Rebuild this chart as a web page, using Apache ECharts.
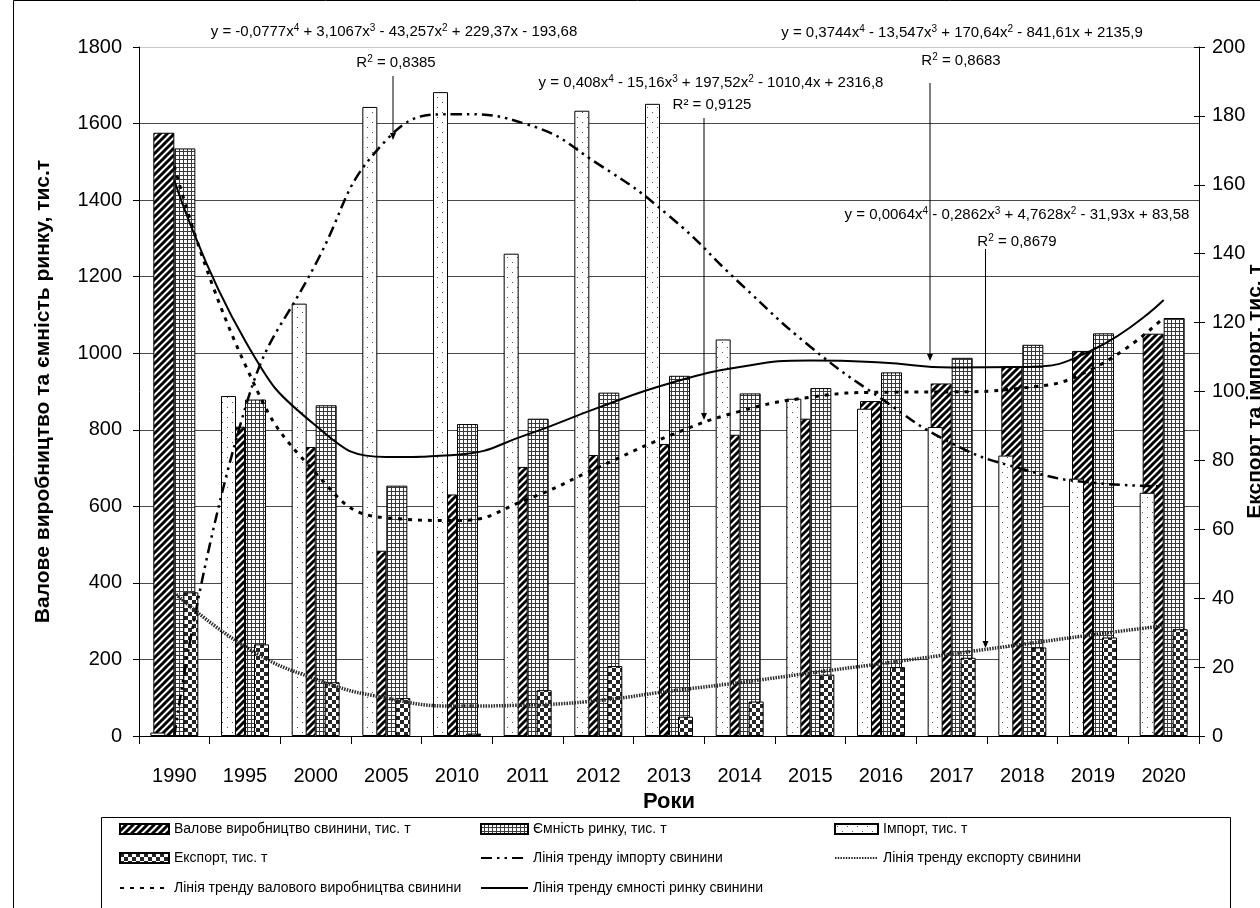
<!DOCTYPE html>
<html>
<head>
<meta charset="utf-8">
<script src="https://cdn.jsdelivr.net/npm/echarts@6/dist/echarts.min.js"></script>
<style>
  html, body { margin: 0; padding: 0; background: #fff; }
  #chart { width: 1260px; height: 908px; }
</style>
</head>
<body>
<div id="chart"></div>
<script>
// Роки
const years = ['1990', '1995', '2000', '2005', '2010', '2011', '2012', '2013', '2014', '2015', '2016', '2017', '2018', '2019', '2020'];

// Ліва вісь, тис. т
const production = [1576, 808, 755, 484, 631, 703, 734, 763, 787, 829, 875, 921, 966, 1006, 1051];
const capacity = [1535, 879, 864, 654, 815, 829, 897, 941, 895, 909, 950, 988, 1022, 1052, 1092];

// Права вісь, тис. т
const imports = [1.0, 98.7, 125.5, 182.6, 186.9, 140.0, 181.5, 183.5, 115.1, 97.9, 95.0, 89.7, 81.4, 74.7, 70.6];
const exports = [41.7, 26.6, 15.6, 11.0, 0.7, 13.3, 20.3, 5.6, 10.0, 17.8, 20.0, 22.7, 25.7, 28.6, 31.0];

// Лінії тренду (поліноміальні, 4-го степеня)
const productionTrend = [1489, 971, 687, 570, 563, 619, 702, 784, 848, 885, 898, 899, 909, 960, 1093];
const capacityTrend = [1452, 1033, 811, 729, 735, 788, 858, 921, 964, 981, 976, 963, 964, 1009, 1139];
const importTrend = [0, 95, 137, 173, 180.5, 177.5, 166, 151, 131.5, 113, 98, 85, 77.5, 73.5, 72.5];
const exportTrend = [41.6, 26, 16.5, 11, 8.7, 9, 10.3, 13, 15.5, 18.3, 21, 23.8, 26.6, 29.4, 32];

// Шкали осей
const leftAxisMax = 1800, leftAxisStep = 200;
const rightAxisMax = 200, rightAxisStep = 20;

// Підписи рівнянь трендів
const equations = [
  { text: 'y = -0,0777x{s|4} + 3,1067x{s|3} - 43,257x{s|2} + 229,37x - 193,68', x: 394, y: 32 },
  { text: 'R{s|2} = 0,8385', x: 396, y: 63 },
  { text: 'y = 0,408x{s|4} - 15,16x{s|3} + 197,52x{s|2} - 1010,4x + 2316,8', x: 711, y: 83 },
  { text: 'R² = 0,9125', x: 712, y: 105 },
  { text: 'y = 0,3744x{s|4} - 13,547x{s|3} + 170,64x{s|2} - 841,61x + 2135,9', x: 962, y: 33 },
  { text: 'R{s|2} = 0,8683', x: 961, y: 61 },
  { text: 'y = 0,0064x{s|4} - 0,2862x{s|3} + 4,7628x{s|2} - 31,93x + 83,58', x: 1017, y: 215 },
  { text: 'R{s|2} = 0,8679', x: 1017, y: 242 }
];

// Стрілки від коефіцієнтів детермінації до ліній тренду: [x, y початку, y кінця]
const arrows = [
  [393, 76, 140],
  [704, 118, 420],
  [930, 83, 361],
  [985.5, 249, 648]
];

const FONT = "'Liberation Sans', Arial, sans-serif";

function makePattern(w, h, draw) {
  const c = document.createElement('canvas');
  c.width = w; c.height = h;
  const g = c.getContext('2d');
  g.fillStyle = '#fff';
  g.fillRect(0, 0, w, h);
  draw(g, w, h);
  return { image: c, repeat: 'repeat' };
}

// Косе штрихування
const hatchFill = makePattern(7, 7, function (g, w, h) {
  g.strokeStyle = '#000';
  g.lineWidth = 3;
  for (let k = -1; k <= 1; k++) {
    g.beginPath();
    g.moveTo(k * w - 1, h + 1);
    g.lineTo(k * w + w + 1, -1);
    g.stroke();
  }
});

// Сітка
const gridFill = makePattern(4, 4, function (g) {
  g.fillStyle = '#3a3a3a';
  g.fillRect(3, 0, 1, 4);
  g.fillRect(0, 3, 4, 1);
});

// Рідкі крапки
const dotFill = makePattern(10, 10, function (g) {
  g.fillStyle = '#555';
  g.fillRect(2, 2, 1, 1);
  g.fillRect(7, 7, 1, 1);
});

// Шахова клітинка
const checkFill = makePattern(8, 8, function (g) {
  g.fillStyle = '#262626';
  g.fillRect(0, 0, 4, 4);
  g.fillRect(4, 4, 4, 4);
});

const S_PROD = 'Валове виробництво свинини, тис. т';
const S_CAP = 'Ємність ринку, тис. т';
const S_IMP = 'Імпорт, тис. т';
const S_EXP = 'Експорт, тис. т';
const T_IMP = 'Лінія тренду імпорту свинини';
const T_EXP = 'Лінія тренду експорту свинини';
const T_PROD = 'Лінія тренду валового виробництва свинини';
const T_CAP = 'Лінія тренду ємності ринку свинини';

// Легенда: [назва, ліворуч, зверху, ширина значка, стовпчик?]
const legendItems = [
  [S_PROD, 119, 822, 49, true],
  [S_CAP, 480, 822, 47, true],
  [S_IMP, 834, 822, 43, true],
  [S_EXP, 119, 851, 49, true],
  [T_IMP, 480, 851, 47, false],
  [T_EXP, 834, 851, 43, false],
  [T_PROD, 119, 881, 49, false],
  [T_CAP, 480, 881, 47, false]
];

const gridLineColors = [];
for (let v = 0; v <= leftAxisMax; v += leftAxisStep) {
  gridLineColors.push(v === leftAxisMax ? '#c8c8c8' : '#4a4a4a');
}

const chart = echarts.init(document.getElementById('chart'), null, { renderer: 'canvas' });

const barBorder = { borderColor: '#000', borderWidth: 1 };

const graphics = [
  { type: 'rect', shape: { x: 13.5, y: 0.5, width: 1400, height: 1000 },
    style: { fill: 'none', stroke: '#000', lineWidth: 1 }, z: 1, silent: true },
  { type: 'rect', shape: { x: 101.5, y: 817.5, width: 1129, height: 200 },
    style: { fill: 'none', stroke: '#000', lineWidth: 1 }, z: 1, silent: true }
];
equations.forEach(function (e) {
  graphics.push({
    type: 'text', z: 50, silent: true,
    style: {
      x: e.x, y: e.y, text: e.text, align: 'center', verticalAlign: 'middle',
      fontFamily: FONT, fontSize: 15, lineHeight: 17, fill: '#000',
      rich: { s: { fontSize: 10, lineHeight: 10, verticalAlign: 'top', fontFamily: FONT, fill: '#000' } }
    }
  });
});
arrows.forEach(function (a) {
  graphics.push({
    type: 'line', z: 50, silent: true,
    shape: { x1: a[0], y1: a[1], x2: a[0], y2: a[2] - 4 },
    style: { stroke: '#000', lineWidth: 1 }
  });
  graphics.push({
    type: 'polygon', z: 50, silent: true,
    shape: { points: [[a[0] - 3, a[2] - 7], [a[0] + 3, a[2] - 7], [a[0], a[2]]] },
    style: { fill: '#000' }
  });
});

const plainNumber = function (v) { return String(v); };

const option = {
  backgroundColor: '#fff',
  animation: false,
  textStyle: { fontFamily: FONT },
  grid: { left: 139, right: 61, top: 47, bottom: 172, outerBoundsMode: 'none', containLabel: false },
  legend: legendItems.map(function (it) {
    const item = it[4]
      ? { name: it[0], icon: 'rect' }
      : { name: it[0], itemStyle: { color: 'rgba(0,0,0,0)', borderWidth: 0, opacity: 0 } };
    return {
      data: [item],
      left: it[1], top: it[2],
      itemWidth: it[3], itemHeight: 10, itemGap: 0, padding: 0,
      selectedMode: false,
      textStyle: { fontFamily: FONT, fontSize: 14, color: '#000' }
    };
  }),
  xAxis: [
    {
      type: 'category', data: years, position: 'bottom',
      axisLine: { show: true, lineStyle: { color: '#000', width: 1 } },
      axisTick: { show: true, length: 8, lineStyle: { color: '#000' } },
      axisLabel: { interval: 0, fontSize: 20, color: '#000', margin: 30, fontFamily: FONT },
      splitLine: { show: false },
      name: 'Роки', nameLocation: 'middle', nameGap: 55,
      nameMoveOverlap: false,
      nameTextStyle: { fontSize: 22, fontWeight: 'bold', color: '#000', fontFamily: FONT }
    },
    { type: 'category', data: years, position: 'bottom', show: false }
  ],
  yAxis: [
    {
      type: 'value', min: 0, max: leftAxisMax, interval: leftAxisStep, position: 'left',
      axisLine: { show: true, lineStyle: { color: '#000' } },
      axisTick: { show: true, length: 6, lineStyle: { color: '#000' } },
      axisLabel: { fontSize: 20, color: '#000', margin: 17, fontFamily: FONT, formatter: plainNumber },
      splitLine: { show: true, lineStyle: { color: gridLineColors, width: 1 } },
      name: 'Валове виробництво та ємність ринку, тис.т', nameLocation: 'middle', nameGap: 85,
      nameMoveOverlap: false,
      nameTextStyle: { fontSize: 21, fontWeight: 'bold', color: '#000', fontFamily: FONT }
    },
    {
      type: 'value', min: 0, max: rightAxisMax, interval: rightAxisStep, position: 'right',
      axisLine: { show: true, lineStyle: { color: '#000' } },
      axisTick: { show: true, length: 6, lineStyle: { color: '#000' } },
      axisLabel: { fontSize: 20, color: '#000', margin: 13, fontFamily: FONT, formatter: plainNumber },
      splitLine: { show: false },
      name: 'Експорт та імпорт, тис. т', nameLocation: 'middle', nameGap: 46,
      nameMoveOverlap: false,
      nameTextStyle: { fontSize: 21, fontWeight: 'bold', color: '#000', fontFamily: FONT }
    },
    {
      type: 'value', min: 0, max: rightAxisMax, interval: rightAxisStep, position: 'right',
      axisLine: { show: false },
      axisTick: { show: true, inside: true, length: 5, lineStyle: { color: '#000' } },
      axisLabel: { show: false },
      splitLine: { show: false }
    }
  ],
  series: [
    { name: S_PROD, type: 'bar', xAxisIndex: 0, yAxisIndex: 0, data: production,
      barWidth: 21, barGap: '0%', itemStyle: Object.assign({ color: hatchFill }, barBorder), z: 2 },
    { name: S_CAP, type: 'bar', xAxisIndex: 0, yAxisIndex: 0, data: capacity,
      barWidth: 21, barGap: '0%', itemStyle: Object.assign({ color: gridFill }, barBorder), z: 2 },
    { name: S_IMP, type: 'bar', xAxisIndex: 1, yAxisIndex: 1, data: imports,
      barWidth: 15, barGap: '120%', itemStyle: Object.assign({ color: dotFill }, barBorder), z: 3 },
    { name: S_EXP, type: 'bar', xAxisIndex: 1, yAxisIndex: 1, data: exports,
      barWidth: 15, barGap: '120%', itemStyle: Object.assign({ color: checkFill }, barBorder), z: 3 },
    { name: T_IMP, type: 'line', xAxisIndex: 0, yAxisIndex: 1, data: importTrend,
      smooth: true, symbol: 'none', z: 5,
      lineStyle: { color: '#000', width: 2.5, type: [11, 5, 2.5, 5, 2.5, 5] },
      itemStyle: { color: '#000' } },
    { name: T_EXP, type: 'line', xAxisIndex: 0, yAxisIndex: 1, data: exportTrend,
      smooth: true, symbol: 'none', z: 5,
      lineStyle: { color: '#2a2a2a', width: 3.5, type: [1.5, 1.2] },
      itemStyle: { color: '#2a2a2a' } },
    { name: T_PROD, type: 'line', xAxisIndex: 0, yAxisIndex: 0, data: productionTrend,
      smooth: true, symbol: 'none', z: 5,
      lineStyle: { color: '#000', width: 3, type: [4, 6] },
      itemStyle: { color: '#000' } },
    { name: T_CAP, type: 'line', xAxisIndex: 0, yAxisIndex: 0, data: capacityTrend,
      smooth: true, symbol: 'none', z: 5,
      lineStyle: { color: '#000', width: 2, type: 'solid' },
      itemStyle: { color: '#000' } }
  ],
  graphic: graphics
};

chart.setOption(option);
</script>
</body>
</html>
